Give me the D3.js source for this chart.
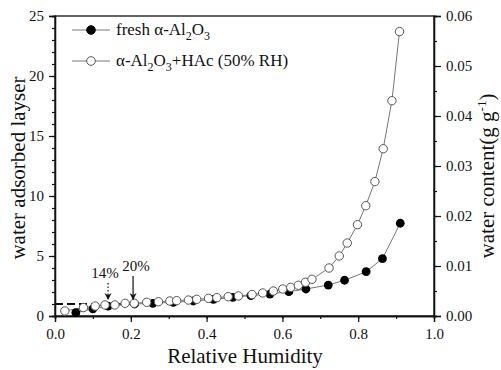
<!DOCTYPE html>
<html><head><meta charset="utf-8">
<script src="https://cdn.jsdelivr.net/npm/d3@7"></script>
<style>body{margin:0;background:#fff}svg{display:block}</style>
</head><body><svg id="c" width="501" height="370"></svg>
<script>
const freshRH = [0.055,0.10,0.14,0.21,0.258,0.312,0.365,0.418,0.469,0.517,0.567,0.617,0.662,0.721,0.764,0.821,0.864,0.911];
const freshLayer = [0.28,0.6,0.83,1.0,1.06,1.14,1.25,1.39,1.56,1.7,1.83,2.03,2.25,2.58,2.98,3.69,4.78,7.73];
const hacRH = [0.026,0.075,0.106,0.132,0.158,0.185,0.209,0.242,0.273,0.303,0.321,0.352,0.374,0.405,0.427,0.457,0.484,0.52,0.548,0.576,0.601,0.622,0.642,0.661,0.678,0.723,0.750,0.771,0.798,0.820,0.844,0.866,0.889,0.909];
const hacLayer = [0.42,0.7,0.83,0.92,0.92,1.06,1.06,1.14,1.19,1.25,1.28,1.33,1.39,1.47,1.53,1.61,1.67,1.79,1.92,2.08,2.25,2.39,2.56,2.81,3.06,4.0,5.0,6.08,7.61,9.19,11.2,13.94,17.94,23.7];
const xTicks = [0,0.2,0.4,0.6,0.8,1.0];
const yTicks = [0,5,10,15,20,25];
const y2Ticks = [0,0.01,0.02,0.03,0.04,0.05,0.06];
const monolayer = 1;
const arrows = [{rh:0.14,label:"14%",dotted:true},{rh:0.206,label:"20%",dotted:false}];

const FONT = '"Liberation Serif"';
const svg = d3.select("#c");
const L=55,R=434,T=16,B=316;
const x = d3.scaleLinear().domain([0,1]).range([L,R]);
const y = d3.scaleLinear().domain([0,25]).range([B,T]);
const y2 = d3.scaleLinear().domain([0,0.06]).range([B,T]);
function txt(sel,size){return sel.style("font-family",FONT).style("font-size",size+"px").attr("fill","#111");}

const defs = svg.append("defs");
defs.append("marker").attr("id","ah").attr("viewBox","0 0 10 10").attr("refX",9).attr("refY",5)
  .attr("markerWidth",7).attr("markerHeight",9).attr("markerUnits","userSpaceOnUse").attr("orient","auto")
  .append("path").attr("d","M0,0 L10,5 L0,10 L3,5 Z").attr("fill","#111");

svg.append("rect").attr("x",L).attr("y",T).attr("width",R-L).attr("height",B-T).attr("fill","none").attr("stroke","#111").attr("stroke-width",1.3);

function styleAxis(g){g.attr("font-family",null).attr("font-size",null);g.select(".domain").attr("stroke","#111").attr("stroke-width",1.3);g.selectAll("line").attr("stroke","#111").attr("stroke-width",1.2);txt(g.selectAll("text"),15);}
svg.append("g").attr("transform",`translate(0,${B})`).call(d3.axisBottom(x).tickValues(d3.range(0,1.01,0.1)).tickSize(3).tickFormat("")).call(styleAxis);
svg.append("g").attr("transform",`translate(0,${B})`).call(d3.axisBottom(x).tickValues(xTicks).tickSize(6).tickPadding(6).tickFormat(d3.format(".1f"))).call(styleAxis);
svg.append("g").attr("transform",`translate(${L},0)`).call(d3.axisLeft(y).tickValues(d3.range(0,26,1)).tickSize(3).tickFormat("")).call(styleAxis);
svg.append("g").attr("transform",`translate(${L},0)`).call(d3.axisLeft(y).tickValues(yTicks).tickSize(6).tickPadding(5)).call(styleAxis);
svg.append("g").attr("transform",`translate(${R},0)`).call(d3.axisRight(y2).tickValues(d3.range(0,0.0601,0.005)).tickSize(3).tickFormat("")).call(styleAxis);
svg.append("g").attr("transform",`translate(${R},0)`).call(d3.axisRight(y2).tickValues(y2Ticks).tickSize(7).tickPadding(5).tickFormat(d3.format(".2f"))).call(styleAxis);

svg.append("line").attr("x1",x(0)).attr("x2",x(0.2)).attr("y1",y(monolayer)).attr("y2",y(monolayer))
  .attr("stroke","#111").attr("stroke-width",2).attr("stroke-dasharray","8,4");

const line = d3.line().x(d=>x(d[0])).y(d=>y(d[1]));
const hac = hacRH.map((v,i)=>[v,hacLayer[i]]);
const fresh = freshRH.map((v,i)=>[v,freshLayer[i]]);
svg.append("path").attr("d",line(hac)).attr("fill","none").attr("stroke","#777").attr("stroke-width",1);
svg.append("path").attr("d",line(fresh)).attr("fill","none").attr("stroke","#777").attr("stroke-width",1);
svg.selectAll(".f").data(fresh).enter().append("circle").attr("cx",d=>x(d[0])).attr("cy",d=>y(d[1])).attr("r",4.4).attr("fill","#000");
svg.selectAll(".h").data(hac).enter().append("circle").attr("cx",d=>x(d[0])).attr("cy",d=>y(d[1])).attr("r",4.2).attr("fill","#fff").attr("stroke","#555").attr("stroke-width",1);

arrows.forEach((a,i)=>{
  const ax=x(a.rh);
  const yTop = i===0? 283:276;
  svg.append("line").attr("x1",ax).attr("x2",ax).attr("y1",yTop).attr("y2",y(1.05)-4)
    .attr("stroke","#111").attr("stroke-width",1.2).attr("stroke-dasharray",a.dotted?"1.5,2":null).attr("marker-end","url(#ah)");
  txt(svg.append("text").attr("x",ax+(i===0?-3:3)).attr("y",yTop-5).attr("text-anchor","middle"),15).text(a.label);
});

const lg=[{y:30,fill:"#000",stroke:"#000",txt:"fresh α-Al",extra:""},{y:61,fill:"#fff",stroke:"#555",txt:"α-Al",extra:"+HAc (50% RH)"}];
lg.forEach(l=>{
  svg.append("line").attr("x1",72).attr("x2",110).attr("y1",l.y).attr("y2",l.y).attr("stroke","#777").attr("stroke-width",1);
  svg.append("circle").attr("cx",91).attr("cy",l.y).attr("r",4.3).attr("fill",l.fill).attr("stroke",l.stroke);
  const t=txt(svg.append("text").attr("x",116).attr("y",l.y+5),17);
  t.append("tspan").text(l.txt);
  t.append("tspan").attr("dy",5).style("font-size","12px").text("2");
  t.append("tspan").attr("dy",-5).text("O");
  t.append("tspan").attr("dy",5).style("font-size","12px").text("3");
  if(l.extra) t.append("tspan").attr("dy",-5).text(l.extra);
});

txt(svg.append("text").attr("x",245).attr("y",363).attr("text-anchor","middle"),21).text("Relative Humidity");
txt(svg.append("text").attr("transform","translate(25,168) rotate(-90)").attr("text-anchor","middle"),21).text("water adsorbed layser");
const rt=txt(svg.append("text").attr("transform","translate(494,176) rotate(-90)").attr("text-anchor","middle"),21);
rt.append("tspan").text("water content(g g");
rt.append("tspan").attr("dy",-8).style("font-size","13px").text("-1");
rt.append("tspan").attr("dy",8).text(")");
</script></body></html>
